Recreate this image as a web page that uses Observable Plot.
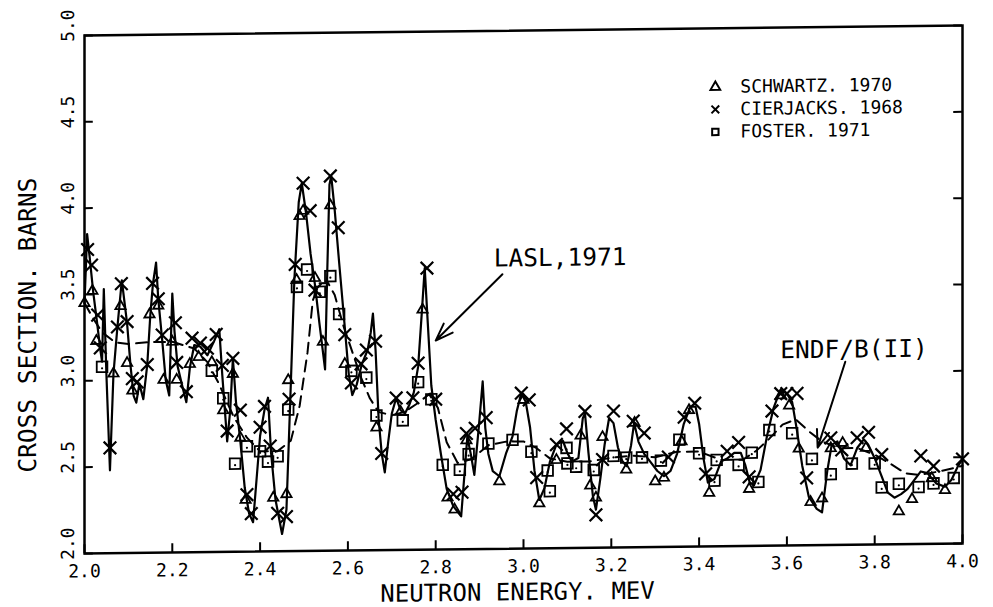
<!DOCTYPE html>
<html><head><meta charset="utf-8">
<script src="https://cdn.jsdelivr.net/npm/d3@7"></script>
<script src="https://cdn.jsdelivr.net/npm/@observablehq/plot@0.6"></script>
<style>
html,body{margin:0;padding:0;background:#fff;}
#wrap{width:993px;height:607px;transform:skewY(-0.65deg);transform-origin:523px 289px;}
</style></head><body><div id="wrap"></div>
<script>
// Tick values
const xTicks = [2.0, 2.2, 2.4, 2.6, 2.8, 3.0, 3.2, 3.4, 3.6, 3.8, 4.0];
const yTicks = [2.0, 2.5, 3.0, 3.5, 4.0, 4.5, 5.0];

// LASL, 1971 evaluation (solid curve)
const lasl = [
[2.000,3.45],[2.006,3.85],[2.012,3.71],[2.020,3.51],[2.028,3.35],[2.036,3.18],[2.040,3.11],[2.044,3.53],
[2.050,3.03],[2.058,2.48],[2.066,3.04],[2.075,3.31],[2.085,3.58],[2.097,3.33],[2.105,3.08],[2.112,2.91],
[2.118,2.87],[2.125,2.98],[2.134,2.89],[2.143,3.09],[2.150,3.38],[2.156,3.56],[2.163,3.68],[2.168,3.47],
[2.177,3.23],[2.185,3.00],[2.193,2.91],[2.200,3.50],[2.205,3.28],[2.212,3.08],[2.222,2.97],[2.232,2.87],
[2.240,3.07],[2.250,3.20],[2.264,3.19],[2.280,3.14],[2.295,3.22],[2.307,3.29],[2.314,3.02],[2.325,2.64],
[2.332,2.82],[2.338,3.12],[2.345,2.87],[2.355,2.64],[2.365,2.37],[2.375,2.22],[2.384,2.17],[2.392,2.42],
[2.400,2.67],[2.410,2.82],[2.418,2.89],[2.425,2.57],[2.435,2.30],[2.450,2.10],[2.460,2.24],[2.470,2.97],
[2.478,3.57],[2.488,4.02],[2.495,4.13],[2.505,3.95],[2.515,3.72],[2.525,3.54],[2.535,3.32],[2.548,3.05],
[2.553,3.62],[2.558,4.12],[2.562,4.17],[2.570,3.97],[2.580,3.67],[2.592,3.32],[2.602,3.02],[2.610,2.90],
[2.620,2.96],[2.632,3.08],[2.645,3.16],[2.652,3.26],[2.657,3.37],[2.663,3.16],[2.670,2.76],[2.677,2.56],
[2.684,2.45],[2.692,2.63],[2.700,2.79],[2.710,2.88],[2.720,2.81],[2.730,2.79],[2.740,2.84],[2.750,2.91],
[2.760,3.06],[2.768,3.36],[2.775,3.63],[2.782,3.31],[2.790,2.95],[2.800,2.75],[2.812,2.55],[2.825,2.35],
[2.840,2.25],[2.858,2.19],[2.866,2.45],[2.872,2.65],[2.880,2.55],[2.888,2.43],[2.898,2.70],[2.907,2.97],
[2.913,2.70],[2.920,2.55],[2.930,2.45],[2.945,2.42],[2.960,2.55],[2.975,2.65],[2.985,2.80],[2.995,2.90],
[3.005,2.85],[3.015,2.70],[3.025,2.45],[3.036,2.28],[3.048,2.35],[3.060,2.50],[3.075,2.60],[3.090,2.62],
[3.100,2.55],[3.110,2.50],[3.125,2.52],[3.135,2.75],[3.140,2.78],[3.148,2.55],[3.158,2.30],[3.165,2.22],
[3.175,2.40],[3.185,2.60],[3.195,2.75],[3.205,2.72],[3.215,2.58],[3.225,2.50],[3.235,2.47],[3.245,2.59],
[3.252,2.72],[3.262,2.61],[3.275,2.54],[3.290,2.49],[3.305,2.44],[3.320,2.41],[3.335,2.44],[3.350,2.54],
[3.365,2.71],[3.380,2.81],[3.392,2.81],[3.400,2.71],[3.410,2.51],[3.420,2.37],[3.435,2.39],[3.450,2.49],
[3.465,2.51],[3.480,2.54],[3.495,2.54],[3.505,2.47],[3.515,2.37],[3.525,2.35],[3.540,2.44],[3.555,2.64],
[3.570,2.80],[3.585,2.90],[3.600,2.88],[3.612,2.83],[3.622,2.68],[3.635,2.46],[3.650,2.28],[3.668,2.21],
[3.680,2.19],[3.692,2.43],[3.702,2.58],[3.715,2.60],[3.730,2.50],[3.745,2.46],[3.760,2.56],[3.775,2.61],
[3.785,2.58],[3.800,2.50],[3.815,2.40],[3.830,2.30],[3.845,2.27],[3.860,2.29],[3.875,2.32],[3.890,2.37],
[3.905,2.42],[3.920,2.41],[3.940,2.35],[3.960,2.33],[3.975,2.37],[3.990,2.45],[4.000,2.49]
];

// ENDF/B(II) evaluation (dashed curve)
const endf = [
[2.000,3.45],[2.020,3.36],[2.040,3.28],[2.070,3.22],[2.100,3.21],[2.150,3.22],[2.200,3.22],[2.250,3.18],
[2.280,3.10],[2.305,2.98],[2.340,2.78],[2.370,2.66],[2.400,2.58],[2.440,2.58],[2.470,2.64],[2.490,2.84],
[2.508,3.15],[2.520,3.45],[2.535,3.55],[2.555,3.55],[2.570,3.48],[2.590,3.30],[2.610,3.15],[2.630,3.00],
[2.650,2.88],[2.670,2.80],[2.700,2.78],[2.730,2.80],[2.760,2.85],[2.785,2.90],[2.805,2.82],[2.825,2.62],
[2.850,2.50],[2.880,2.52],[2.920,2.60],[2.960,2.62],[3.000,2.62],[3.030,2.58],[3.060,2.52],[3.100,2.50],
[3.150,2.50],[3.200,2.52],[3.250,2.53],[3.300,2.52],[3.350,2.55],[3.400,2.55],[3.450,2.50],[3.500,2.50],
[3.530,2.55],[3.560,2.62],[3.590,2.70],[3.620,2.73],[3.650,2.66],[3.680,2.60],[3.720,2.56],[3.760,2.56],
[3.800,2.52],[3.840,2.46],[3.870,2.41],[3.900,2.40],[3.950,2.42],[4.000,2.45]
];

// Schwartz, 1970 (triangles)
const schwartz = [
[2.000,3.45],[2.018,3.52],[2.027,3.23],[2.066,3.04],[2.082,3.43],[2.097,3.10],[2.109,2.94],[2.148,3.38],
[2.168,3.43],[2.180,3.00],[2.200,3.22],[2.210,3.00],[2.240,3.09],[2.260,3.13],[2.290,3.10],[2.316,2.82],
[2.338,3.03],[2.355,2.66],[2.367,2.30],[2.430,2.31],[2.460,2.33],[2.464,2.99],[2.483,3.57],[2.490,3.94],
[2.498,3.97],[2.525,3.58],[2.543,3.21],[2.560,4.00],[2.593,3.08],[2.665,2.71],[2.720,2.80],[2.770,3.39],
[2.827,2.30],[2.843,2.23],[2.870,2.63],[2.945,2.39],[3.000,2.86],[3.036,2.26],[3.075,2.51],[3.130,2.65],
[3.152,2.36],[3.165,2.29],[3.180,2.64],[3.234,2.45],[3.253,2.72],[3.300,2.38],[3.320,2.40],[3.360,2.61],
[3.377,2.79],[3.423,2.31],[3.514,2.33],[3.586,2.87],[3.605,2.81],[3.627,2.56],[3.654,2.25],[3.680,2.27],
[3.700,2.56],[3.727,2.59],[3.780,2.56],[3.855,2.19],[3.885,2.26],[3.930,2.38],[3.960,2.31]
];

// Cierjacks, 1968 (crosses)
const cierjacks = [
[2.007,3.76],[2.016,3.67],[2.030,3.38],[2.036,3.19],[2.058,2.61],[2.075,3.31],[2.084,3.56],[2.097,3.34],
[2.109,3.01],[2.120,2.99],[2.143,3.09],[2.155,3.56],[2.168,3.47],[2.177,3.26],[2.207,3.33],[2.210,3.10],
[2.232,2.93],[2.245,3.24],[2.264,3.21],[2.280,3.18],[2.300,3.26],[2.314,3.08],[2.325,2.70],[2.338,3.12],
[2.355,2.82],[2.370,2.33],[2.380,2.22],[2.400,2.72],[2.410,2.84],[2.423,2.61],[2.440,2.22],[2.460,2.20],
[2.466,2.88],[2.480,3.66],[2.498,4.13],[2.514,3.97],[2.525,3.51],[2.560,4.17],[2.578,3.87],[2.593,3.25],
[2.608,2.97],[2.630,3.08],[2.642,3.16],[2.663,3.21],[2.677,2.56],[2.710,2.88],[2.748,2.88],[2.760,3.08],
[2.780,3.63],[2.800,2.87],[2.840,2.32],[2.860,2.33],[2.870,2.67],[2.890,2.70],[2.915,2.76],[2.995,2.90],
[3.013,2.86],[3.030,2.41],[3.075,2.60],[3.098,2.69],[3.140,2.79],[3.165,2.19],[3.180,2.51],[3.205,2.79],
[3.250,2.73],[3.275,2.66],[3.330,2.52],[3.366,2.75],[3.390,2.83],[3.415,2.42],[3.464,2.55],[3.490,2.60],
[3.514,2.40],[3.566,2.78],[3.586,2.88],[3.600,2.88],[3.623,2.88],[3.645,2.39],[3.700,2.62],[3.725,2.55],
[3.760,2.62],[3.786,2.65],[3.816,2.52],[3.905,2.51],[3.934,2.45],[4.000,2.49]
];

// Foster, 1971 (squares)
const foster = [
[2.040,3.08],[2.290,3.05],[2.316,2.89],[2.343,2.51],[2.370,2.61],[2.400,2.58],[2.418,2.52],[2.440,2.55],
[2.464,2.82],[2.484,3.53],[2.507,3.63],[2.536,3.50],[2.560,3.59],[2.580,3.37],[2.608,3.04],[2.642,3.00],
[2.665,2.78],[2.725,2.75],[2.760,2.97],[2.790,2.87],[2.816,2.49],[2.855,2.46],[2.875,2.55],[2.920,2.61],
[2.975,2.63],[3.018,2.56],[3.055,2.45],[3.060,2.33],[3.098,2.58],[3.100,2.49],[3.120,2.47],[3.160,2.45],
[3.205,2.53],[3.234,2.52],[3.270,2.52],[3.313,2.50],[3.355,2.62],[3.400,2.54],[3.440,2.50],[3.435,2.38],
[3.490,2.47],[3.520,2.54],[3.535,2.37],[3.560,2.67],[3.612,2.65],[3.657,2.50],[3.700,2.41],[3.748,2.47],
[3.800,2.47],[3.816,2.33],[3.855,2.35],[3.900,2.33],[3.934,2.35],[3.980,2.38]
];

// Legend and annotation texts
const legendLabels = ["SCHWARTZ. 1970", "CIERJACKS. 1968", "FOSTER. 1971"];
const legendSymbols = ["triangle", "times", "square"];
const legendY = [4.66, 4.53, 4.40];
const notes = [
  {x: 2.932, y: 3.68, text: "LASL,1971"},
  {x: 3.585, y: 3.13, text: "ENDF/B(II)"}
];
const arrows = [
  {x1: 2.952, y1: 3.59, x2: 2.800, y2: 3.21},
  {x1: 3.733, y1: 3.06, x2: 3.670, y2: 2.565}
];
const xTitle = "NEUTRON ENERGY. MEV";
const yTitle = "CROSS SECTION. BARNS";

const F = "'DejaVu Sans Mono', monospace";
const legendData = legendLabels.map((t, i) => ({t, s: legendSymbols[i], y: legendY[i]}));

const chart = Plot.plot({
  width: 993, height: 607,
  marginLeft: 84, marginRight: 31, marginTop: 30, marginBottom: 59,
  x: {domain: [2, 4], axis: null},
  y: {domain: [2, 5], axis: null},
  style: {fontFamily: F, background: "white", color: "black", overflow: "visible"},
  marks: [
    Plot.frame({stroke: "black", strokeWidth: 2.5}),
    Plot.ruleX(xTicks, {x: d => d, y1: 2, y2: 2.05, stroke: "black", strokeWidth: 2}),
    Plot.ruleY(yTicks, {y: d => d, x1: 2, x2: 2.02, stroke: "black", strokeWidth: 2}),
    Plot.ruleY(yTicks, {y: d => d, x1: 3.98, x2: 4, stroke: "black", strokeWidth: 2}),
    Plot.text(xTicks, {x: d => d, y: 2, text: d => d.toFixed(1), dy: 18, fontSize: 18, fill: "black"}),
    Plot.text(yTicks, {x: 2, y: d => d, text: d => d.toFixed(1), rotate: -90, dx: -16, dy: -10, fontSize: 18, fill: "black"}),
    Plot.text([xTitle], {text: d => d, frameAnchor: "bottom", textAnchor: "middle", lineAnchor: "middle", dy: 44, dx: -6, fontSize: 24, fill: "black"}),
    Plot.text([yTitle], {text: d => d, frameAnchor: "left", textAnchor: "middle", lineAnchor: "middle", rotate: -90, dx: -56, dy: 30, fontSize: 24.5, fill: "black"}),
    Plot.line(endf, {x: d => d[0], y: d => d[1], stroke: "black", strokeWidth: 2, strokeDasharray: "11,7"}),
    Plot.line(lasl, {x: d => d[0], y: d => d[1], stroke: "black", strokeWidth: 2.2}),
    Plot.dot(schwartz, {x: d => d[0], y: d => d[1], symbol: "triangle", r: 3.8, stroke: "black", strokeWidth: 1.8, fill: "none"}),
    Plot.dot(cierjacks, {x: d => d[0], y: d => d[1], symbol: "times", r: 5.8, stroke: "black", strokeWidth: 2.2}),
    Plot.dot(foster, {x: d => d[0], y: d => d[1], symbol: "square", r: 6, stroke: "black", strokeWidth: 1.8, fill: "none"}),
    Plot.dot(foster, {x: d => d[0], y: d => d[1], r: 1.1, fill: "black", dy: 1.5}),
    Plot.dot(legendData, {x: 3.437, y: "y", symbol: "s", r: 3.6, stroke: "black", strokeWidth: 2, fill: "none"}),
    Plot.text(legendData, {x: 3.494, y: "y", text: "t", textAnchor: "start", fontSize: 18, fill: "black"}),
    Plot.arrow(arrows, {x1: "x1", y1: "y1", x2: "x2", y2: "y2", stroke: "black", strokeWidth: 2, headLength: 14, headAngle: 40}),
    Plot.text(notes, {x: "x", y: "y", text: "text", textAnchor: "start", fontSize: 24.5, fill: "black"})
  ]
});
document.getElementById("wrap").appendChild(chart);
</script></body></html>
